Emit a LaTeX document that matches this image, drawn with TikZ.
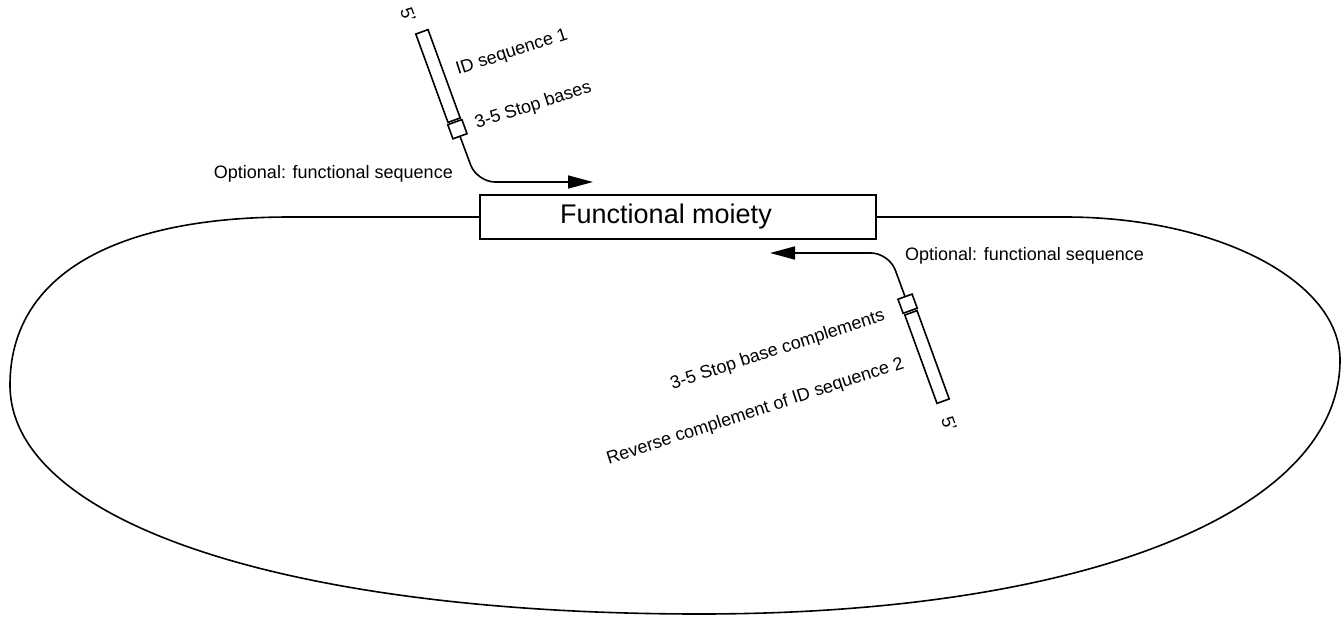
\documentclass[tikz,border=0pt]{standalone}
\usepackage{fontspec}
\setmainfont{Liberation Sans}
\usepackage{tikz}
\usetikzlibrary{arrows.meta,positioning,calc}

\begin{document}
\begin{tikzpicture}[
        x=1pt, y=-1pt,
        strand/.style={rectangle, draw, line width=1.6pt, inner sep=0pt, rotate=-70},
        moiety/.style={rectangle, draw, line width=1.6pt, minimum width=396pt, minimum height=44pt, inner sep=0pt, font=\fontsize{27}{32}\selectfont},
        lbl/.style={inner sep=0pt, font=\fontsize{18}{21}\selectfont},
        tilted/.style={lbl, rotate=18},
        arrow/.style={-{Triangle[length=25pt,width=13pt]}, line width=1.6pt, rounded corners=18pt}
      ]
        \useasboundingbox (0,0) rectangle (1341,616);

        % Functional moiety and loop
        \node[moiety] (moiety) at (678,217) {Functional moiety\hspace*{24pt}};
        \draw[line width=1.6pt] (moiety.east) -- (1065,217)
          .. controls (1217,217) and (1340,281) .. (1340,360)
          .. controls (1340,512) and (1084,614) .. (700,614)
          .. controls (286,614) and (10,522) .. (10,385)
          .. controls (10,275) and (115,217) .. (290,217) -- (moiety.west);

        % Strand 1
        \node[strand, minimum width=94pt, minimum height=13pt] (id1) at (438,76) {};
        \node[strand, minimum width=15pt, minimum height=15pt] (stop1) at (457.4,129.2) {};
        \node[lbl, rotate=-70] (five1) at (408,15) {5'};
        \node[tilted, anchor=base west] (id1lbl) at (458,75) {ID sequence 1};
        \node[tilted, anchor=base west] (stop1lbl) at (477,129) {3-5 Stop bases};
        \node[lbl, anchor=base east] (opt1) at (453,178) {Optional: functional sequence};
        \coordinate (bend1) at (477,182);
        \coordinate (tip1) at (593,182);
        \draw[arrow] (stop1.east) -- (bend1) -- (tip1);

        % Strand 2
        \node[strand, minimum width=94pt, minimum height=13pt] (id2) at (927,357) {};
        \node[strand, minimum width=15pt, minimum height=15pt] (stop2) at (907.6,303.7) {};
        \node[lbl, rotate=-70] (five2) at (949,424) {5'};
        \node[tilted, anchor=base east] (stop2lbl) at (886,320) {3-5 Stop base complements};
        \node[tilted, anchor=base east] (id2lbl) at (905,368) {Reverse complement of ID sequence 2};
        \node[lbl, anchor=base west] (opt2) at (905,260) {Optional: functional sequence};
        \coordinate (bend2) at (889,253);
        \coordinate (tip2) at (770,253);
        \draw[arrow] (stop2.west) -- (bend2) -- (tip2);
      \end{tikzpicture}
\end{document}
